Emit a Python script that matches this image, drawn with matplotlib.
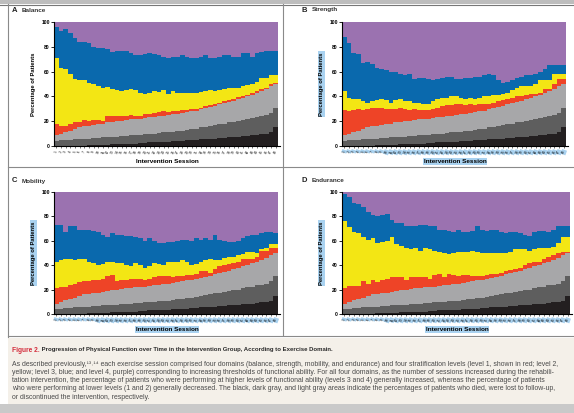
import matplotlib.pyplot as plt
import numpy as np
from matplotlib.patches import Rectangle
from matplotlib.text import Annotation

plt.rcParams['font.family'] = ['Liberation Sans', 'DejaVu Sans']

# Intervention sessions 1..48
sessions = np.arange(1, 49)

# Cumulative tops (percent of patients) for the three shared gray layers
died_top = [0, 0, 0, 0, 0, 0, 0, 0.5,
            0.5, 1, 1, 1, 1.5, 1.5, 1.5, 2,
            2, 2, 2.5, 2.5, 3, 3, 3, 3.5,
            3.5, 4, 4, 4, 4.5, 5, 5, 5.5,
            5.5, 6, 6, 6.5, 6.5, 7, 7, 7.5,
            8, 8, 8.5, 9, 9.5, 10, 11, 15]
lost_top = [4, 4.5, 5, 5, 5.5, 5.5, 6, 6,
            6.5, 6.5, 7, 7, 7.5, 7.5, 8, 8,
            8.5, 9, 9, 9.5, 10, 10, 10.5, 11,
            11, 11.5, 12, 12.5, 13, 13.5, 14, 15,
            15.5, 16, 17, 17.5, 18, 19, 19.5, 20,
            21, 22, 22.5, 23.5, 24, 25, 27, 31]
discontinued_top = [8.5, 10, 11.5, 12.5, 13.5, 15, 16, 16.5,
                    17, 17.5, 18, 19, 19.5, 20, 20.5, 21,
                    21.5, 22, 22, 22.5, 23, 23.5, 24, 24.5,
                    25, 25.5, 26, 27, 27.5, 28, 28.5, 29.5,
                    30.5, 31.5, 32.5, 33.5, 34.5, 35.5, 36.5, 38,
                    39, 40, 41.5, 43, 44.5, 46, 48, 50]

# Cumulative tops of level 1 (red), level 2 (yellow), level 3 (blue) per domain
balance_red = [18, 16, 16, 17.5, 19, 19.5, 21, 20,
               21, 21, 20, 24, 24, 24, 24.5, 24.5,
               25, 24, 24.5, 25.5, 26, 27, 27.5, 28,
               27.5, 28, 28.5, 29, 29, 29.5, 30, 31,
               32, 33, 34, 35, 36, 37, 38, 39.5,
               40.5, 41.5, 43, 44.5, 46, 47, 50, 51]
balance_yellow = [71, 63, 62, 58, 54, 53.5, 53, 51,
                  50, 48, 47, 47.5, 46, 45, 44.5, 45,
                  46, 45, 43, 42, 43, 44, 43.5, 45,
                  42, 44, 43, 43, 43, 43, 43, 43.5,
                  44, 45, 44, 45, 46, 47, 47, 47,
                  48, 49, 50, 52, 55, 55, 57, 57]
balance_blue = [96, 93, 94, 91, 87, 84, 84, 83,
                80, 79, 79, 78, 76, 77, 77, 76.5,
                75, 73, 73, 74, 75, 74, 73, 72,
                71, 71.5, 72, 73, 72, 71, 71, 72,
                73, 71, 71, 72, 73, 73, 72, 72,
                75, 75, 72, 75, 76, 77, 77, 77]

strength_red = [29, 28, 29, 30, 29, 30, 31, 31,
                31, 30, 30, 30, 31, 30, 29, 30,
                29, 29, 29, 30, 31, 32, 33, 33,
                34, 34, 33, 34, 33, 34, 34, 34,
                35, 36, 37, 38, 39, 40, 40, 41,
                42, 42, 43, 46, 46, 50, 54, 54]
strength_yellow = [44, 39, 38, 38, 36, 35, 36, 37,
                   38, 37, 35, 37, 38, 36, 36, 35,
                   35, 34, 34, 36, 38, 39, 39, 40,
                   40, 39, 38, 39, 38, 39, 40, 40,
                   41, 41, 42, 43, 45, 47, 48, 48,
                   48, 50, 53, 53, 53, 58, 58, 58]
strength_blue = [88, 83, 75, 74, 67, 68, 66, 63,
                 62, 61, 60, 60, 58, 57, 58, 54,
                 55, 55, 54, 53, 54, 55, 56, 56,
                 54, 54, 55, 55, 56, 56, 57, 58,
                 57, 53, 51, 52, 53, 55, 56, 57,
                 57, 58, 60, 62, 65, 65, 65, 65]

mobility_red = [21, 22, 22, 24, 25, 26, 27, 27,
                28, 28, 29, 31, 32, 27, 28, 28,
                29, 29, 29, 28, 29, 30, 31, 31,
                31, 30, 31, 31, 32, 32, 33, 35,
                35, 34, 37, 39, 40, 41, 42, 43,
                45, 45, 45, 47, 52, 52, 54, 54]
mobility_yellow = [43, 44, 45, 45, 44, 45, 45, 43,
                   42, 40, 41, 43, 43, 42, 42, 40,
                   39, 42, 40, 38, 39, 42, 41, 40,
                   43, 43, 43, 44, 43, 40, 41, 43,
                   44, 45, 44, 44, 46, 47, 47, 48,
                   49, 51, 51, 50, 53, 54, 57, 57]
mobility_blue = [73, 73, 67, 72, 72, 69, 69, 69,
                 68, 67, 65, 63, 66, 65, 65, 64,
                 64, 63, 62, 60, 62, 60, 58, 58,
                 59, 59, 60, 61, 61, 60, 62, 61,
                 62, 61, 65, 61, 60, 59, 59, 60,
                 62, 64, 65, 65, 66, 67, 67, 66]

endurance_red = [21, 23, 23, 23, 27, 25, 28, 26,
                 28, 29, 30, 30, 30, 28, 30, 30,
                 30, 30, 29, 32, 33, 30, 33, 32,
                 31, 32, 32, 31, 31, 31, 32, 33,
                 33, 34, 35, 36, 37, 38, 40, 42,
                 43, 43, 45, 47, 48, 50, 51, 51]
endurance_yellow = [76, 71, 67, 66, 63, 61, 62, 58,
                    59, 60, 63, 57, 56, 54, 53, 54,
                    52, 54, 53, 52, 51, 50, 49, 50,
                    51, 51, 51, 52, 51, 50, 50, 50,
                    50, 50, 50, 51, 53, 53, 53, 52,
                    53, 54, 54, 54, 55, 58, 63, 63]
endurance_blue = [98, 96, 91, 90, 88, 84, 81, 80,
                  81, 82, 77, 75, 75, 72, 72, 72,
                  73, 73, 72, 72, 69, 69, 68, 67,
                  69, 67, 67, 68, 72, 69, 68, 69,
                  69, 67, 66, 67, 67, 66, 65, 64,
                  67, 68, 68, 67, 69, 72, 72, 72]

layer_colors = ['#231f20', '#5e5e5e', '#a7a7a9', '#ee4427',
                '#f3e614', '#0a69ad', '#9b72b0']
highlight = '#a9d2f0'


def draw_panel(ax, red_top, yellow_top, blue_top, marked):
    tops = [died_top, lost_top, discontinued_top, red_top, yellow_top,
            blue_top, [100] * len(sessions)]
    bottom = np.zeros(len(sessions))
    for top, color in zip(tops, layer_colors):
        height = np.array(top, dtype=float) - bottom
        ax.bar(sessions, height, bottom=bottom, width=1.0, color=color,
               linewidth=0)
        bottom = bottom + height

    ax.set_xlim(0.5, 48.9)
    ax.set_ylim(0, 100)
    ax.set_yticks([0, 20, 40, 60, 80, 100])
    ax.tick_params(axis='y', labelsize=3.6, length=2, width=0.6, pad=1)
    ax.set_xticks(sessions)
    ax.set_xticklabels([str(s) for s in sessions], rotation=70, fontsize=2.4)
    if marked:
        for lab in ax.get_xticklabels():
            lab.set_bbox(dict(facecolor=highlight, edgecolor='none', pad=0.4))
    ax.tick_params(axis='x', length=1.5, width=0.4, pad=1.2)
    for lab in ax.get_yticklabels():
        lab.set_fontweight('bold')
    for side in ['top', 'right']:
        ax.spines[side].set_visible(False)
    for side in ['left', 'bottom']:
        ax.spines[side].set_linewidth(0.8)

    lbox = dict(facecolor=highlight, edgecolor='none', pad=0.8) if marked else None
    ax.set_ylabel('Percentage of Patients', fontsize=4.2, fontweight='bold',
                  labelpad=4, bbox=lbox)
    ax.set_xlabel('Intervention Session', fontsize=4.6, fontweight='bold',
                  labelpad=3, bbox=lbox)


fig = plt.figure(figsize=(5.74, 4.13), dpi=100)
W, H = 574, 413


def fx(px):
    return px / W


def fy(py):
    return 1 - py / H


# Frame: top band, dividers, caption panel, bottom band
fig.patches.append(Rectangle((0, fy(4)), 1, 4 / H, transform=fig.transFigure,
                             facecolor='#bdbdbd', edgecolor='none'))
fig.add_artist(plt.Line2D([0, 1], [fy(4.5), fy(4.5)], color='#777777', lw=0.8))
fig.add_artist(plt.Line2D([fx(8), fx(8)], [fy(4), fy(337)], color='#8a8a8a', lw=0.8))
fig.add_artist(plt.Line2D([fx(283), fx(283)], [fy(4), fy(335)], color='#8a8a8a', lw=0.8))
fig.add_artist(plt.Line2D([fx(8), 1], [fy(167), fy(167)], color='#8a8a8a', lw=0.8))
fig.add_artist(plt.Line2D([fx(8), 1], [fy(336), fy(336)], color='#8a8a8a', lw=0.8))
fig.patches.append(Rectangle((fx(8), fy(404)), 1, (404 - 338) / H,
                             transform=fig.transFigure, facecolor='#f4f0e9',
                             edgecolor='none'))
fig.patches.append(Rectangle((0, 0), 1, (413 - 404) / H, transform=fig.transFigure,
                             facecolor='#c9c9c9', edgecolor='none'))

panels = [
    ('A', 'Balance', (54, 22, 280, 146), balance_red, balance_yellow, balance_blue, False),
    ('B', 'Strength', (342, 22, 568, 146), strength_red, strength_yellow, strength_blue, True),
    ('C', 'Mobility', (54, 192, 280, 314), mobility_red, mobility_yellow, mobility_blue, True),
    ('D', 'Endurance', (342, 192, 572, 314), endurance_red, endurance_yellow, endurance_blue, True),
]

for letter, name, (x0, y0, x1, y1), red, yellow, blue, marked in panels:
    ax = fig.add_axes([fx(x0), fy(y1), fx(x1 - x0), (y1 - y0) / H])
    draw_panel(ax, red, yellow, blue, marked)
    tx = 12 if x0 < 200 else 302
    ty = 10 if y0 < 100 else 181
    fig.text(fx(tx), fy(ty), letter, fontsize=5.5, fontweight='bold',
             color='#222222', va='center')
    fig.text(fx(tx + 10), fy(ty), name, fontsize=4.6, fontweight='bold',
             color='#333333', va='center')

# Caption
title_red = fig.text(fx(12), fy(350), 'Figure 2.', fontsize=4.8, fontweight='bold',
                     color='#d42d3c', va='center')
fig.add_artist(Annotation(' Progression of Physical Function over Time in the '
                          'Intervention Group, According to Exercise Domain.',
                          xy=(1, 0.5), xycoords=title_red, va='center', ha='left',
                          fontsize=4.3, fontweight='bold', color='#2a2a2a',
                          annotation_clip=False))

caption_lines = [
    'As described previously,¹³˒¹⁴ each exercise session comprised four domains '
    '(balance, strength, mobility, and endurance) and four stratification levels '
    '(level 1, shown in red; level 2,',
    'yellow; level 3, blue; and level 4, purple) corresponding to increasing thresholds '
    'of functional ability. For all four domains, as the number of sessions increased '
    'during the rehabili-',
    'tation intervention, the percentage of patients who were performing at higher '
    'levels of functional ability (levels 3 and 4) generally increased, whereas the '
    'percentage of patients',
    'who were performing at lower levels (1 and 2) generally decreased. The black, dark '
    'gray, and light gray areas indicate the percentages of patients who died, were lost '
    'to follow-up,',
    'or discontinued the intervention, respectively.',
]
for i, line in enumerate(caption_lines):
    fig.text(fx(12), fy(364 + 8.3 * i), line, fontsize=4.95, color='#4a4a4a',
             va='center')

fig.savefig('out.png', dpi=100)
